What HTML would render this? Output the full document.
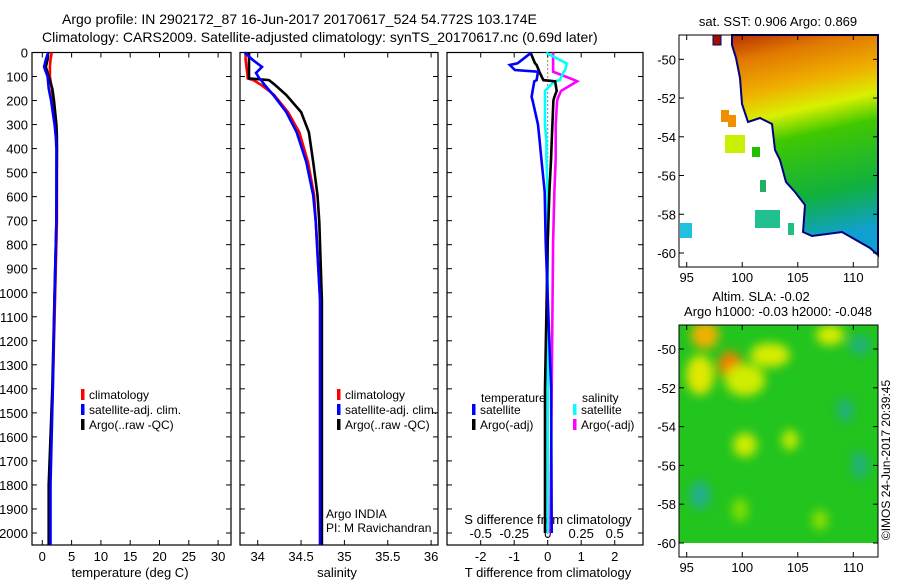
<!DOCTYPE html>
<html><head><meta charset="utf-8"><style>
body{margin:0;background:#fff}
svg{display:block;font-family:"Liberation Sans",sans-serif}
</style></head><body>
<svg id="fig" width="900" height="580" viewBox="0 0 900 580">
<defs>
<linearGradient id="sstGrad" x1="0" y1="0" x2="0.15" y2="1">
<stop offset="0" stop-color="#b83000"/><stop offset="0.12" stop-color="#e07800"/><stop offset="0.28" stop-color="#f0b000"/><stop offset="0.4" stop-color="#d8f000"/><stop offset="0.52" stop-color="#40c800"/><stop offset="0.8" stop-color="#10b040"/><stop offset="1" stop-color="#10a0d0"/>
</linearGradient>
<filter id="blur" x="-50%" y="-50%" width="200%" height="200%"><feGaussianBlur stdDeviation="5"/></filter>
<clipPath id="slaClip"><rect x="679" y="325" width="199" height="218"/></clipPath>
</defs>
<g font-size="14" fill="#000">
<text x="62" y="24">Argo profile: IN 2902172_87 16-Jun-2017 20170617_524 54.772S 103.174E</text>
<text x="42" y="42">Climatology: CARS2009. Satellite-adjusted climatology: synTS_20170617.nc (0.69d later)</text>
</g>
<g id="panels"></g>
<g>
<text x="778" y="26" font-size="13" text-anchor="middle">sat. SST: 0.906 Argo: 0.869</text>
<polygon points="732,35 878,35 878,255 870,248 842,232 812,236 803,232 805,205 795,192 786,182 780,160 775,150 772,124 760,118 748,122 742,104 740,78 736,58 732,45" fill="url(#sstGrad)" stroke="#000080" stroke-width="2"/>
<rect x="713" y="35" width="8" height="10" fill="#a01000" stroke="#000080"/>
<rect x="721" y="110" width="8" height="12" fill="#f09000"/>
<rect x="728" y="115" width="8" height="12" fill="#f09000"/>
<rect x="725" y="135" width="20" height="18" fill="#c8f000"/>
<rect x="752" y="147" width="8" height="10" fill="#20c000"/>
<rect x="755" y="210" width="25" height="18" fill="#20c090"/>
<rect x="680" y="223" width="12" height="15" fill="#20c0e0"/>
<rect x="788" y="223" width="6" height="12" fill="#20c080"/>
<rect x="760" y="180" width="6" height="12" fill="#20b060"/>
<rect x="679" y="35" width="199" height="232" fill="none" stroke="#000"/>
</g>
<g>
<text x="761" y="301" font-size="13" text-anchor="middle">Altim. SLA: -0.02</text>
<text x="778" y="316" font-size="13" text-anchor="middle">Argo h1000: -0.03 h2000: -0.048</text>
<g clip-path="url(#slaClip)">
<rect x="679" y="325" width="199" height="218" fill="#22c41e"/>
<g filter="url(#blur)">
<ellipse cx="705" cy="335" rx="14" ry="14" fill="#f0b000"/>
<ellipse cx="730" cy="365" rx="12" ry="14" fill="#f08000"/>
<ellipse cx="700" cy="375" rx="14" ry="20" fill="#e0e800"/>
<ellipse cx="745" cy="380" rx="20" ry="16" fill="#d0ec00"/>
<ellipse cx="770" cy="355" rx="20" ry="12" fill="#d8ec00"/>
<ellipse cx="830" cy="335" rx="14" ry="10" fill="#d8ec00"/>
<ellipse cx="860" cy="345" rx="10" ry="10" fill="#20b080"/>
<ellipse cx="745" cy="445" rx="12" ry="12" fill="#d0ec00"/>
<ellipse cx="790" cy="440" rx="8" ry="10" fill="#c8ec00"/>
<ellipse cx="845" cy="410" rx="8" ry="12" fill="#20b080"/>
<ellipse cx="700" cy="495" rx="10" ry="14" fill="#20b090"/>
<ellipse cx="740" cy="510" rx="8" ry="12" fill="#80e000"/>
<ellipse cx="820" cy="520" rx="8" ry="10" fill="#90e000"/>
<ellipse cx="860" cy="465" rx="8" ry="14" fill="#20b080"/>
</g>
</g>
<rect x="679" y="325" width="199" height="232" fill="none" stroke="#000"/>
<text transform="translate(890,460) rotate(-90)" font-size="12" text-anchor="middle">©IMOS 24-Jun-2017 20:39:45</text>
</g>
<g id="maps-axes"></g>
</svg>
<script>
const tDepth=[0,30,60,100,150,200,250,300,350,400,700,1000,1400,1800,2000,2050];
const tClim=[1.6,1.4,1.3,1.3,1.6,1.9,2.1,2.3,2.4,2.5,2.5,2.2,1.8,1.2,1.2,1.2];
const tSat=[1.0,0.6,0.3,0.9,1.1,1.5,1.8,2.1,2.3,2.4,2.4,2.1,1.8,1.4,1.4,1.4];
const tArgo=[1.0,0.9,0.6,1.1,1.7,2.0,2.2,2.4,2.5,2.5,2.4,2.1,1.7,1.1,1.1,1.1];
const sDepth=[0,30,60,85,108,115,135,177,248,332,456,594,706,1033,1800,2050];
const sClim=[33.86,33.86,33.87,33.88,33.885,33.95,34.04,34.19,34.35,34.48,34.58,34.65,34.67,34.72,34.72,34.72];
const sSat=[33.85,33.94,34.05,33.98,34.02,34.04,34.08,34.18,34.33,34.45,34.56,34.64,34.67,34.72,34.72,34.72];
const sArgo=[33.9,33.9,33.9,33.9,33.9,34.13,34.2,34.33,34.5,34.59,34.64,34.69,34.71,34.74,34.74,34.74];
const dDepth=[0,5,45,52,73,80,115,120,160,185,200,300,370,440,580,790,1400,2000];
const dTsat=[-0.53,-0.53,-0.9,-1.13,-0.98,-0.29,-0.33,-0.4,-0.45,-0.48,-0.45,-0.29,-0.24,-0.19,-0.09,-0.06,0.1,0.12];
const dTargo=[-0.53,-0.5,-0.38,-0.33,-0.27,-0.25,-0.13,0.22,0.27,0.2,0.17,0.14,0.12,0.1,0.05,0.0,-0.08,-0.08];
const dSsat=[-0.01,0.0,0.14,0.14,0.13,0.12,0.09,0.05,-0.02,-0.02,-0.02,-0.02,-0.01,-0.01,0.0,0.0,0.0,0.0];
const dSargo=[0.04,0.04,0.04,0.04,0.04,0.04,0.2,0.22,0.1,0.08,0.07,0.06,0.06,0.06,0.05,0.04,0.03,0.02];
const depthTicks=[0,100,200,300,400,500,600,700,800,900,1000,1100,1200,1300,1400,1500,1600,1700,1800,1900,2000];
const tempTicks=[0,5,10,15,20,25,30];
const salTicks=[34,34.5,35,35.5,36];
const salTickLabels=["34","34.5","35","35.5","36"];
const dTTicks=[-2,-1,0,1,2];
const dSTicks=[-0.5,-0.25,0,0.25,0.5];
const dSTickLabels=["-0.5","-0.25","0","0.25","0.5"];
const latTicks=[-50,-52,-54,-56,-58,-60];
const lonTicks=[95,100,105,110];

const NS='http://www.w3.org/2000/svg';
const root=document.getElementById('panels');
function el(tag,attrs,parent,txt){const e=document.createElementNS(NS,tag);for(const k in attrs)e.setAttribute(k,attrs[k]);if(txt!==undefined)e.textContent=txt;(parent||root).appendChild(e);return e;}
const PT=52.5,PB=545;
const yD=d=>PT+d*(533-52.5)/2000;
const xT=v=>42.3+v*5.86;
const xS=v=>257.7+(v-34)*86.7;
const xdT=v=>547.7+v*33.5;
const xdS=v=>547.7+v*134;

function frame(x0,x1,name){
  const r=el('rect',{x:x0,y:PT,width:x1-x0,height:PB-PT,fill:'none',stroke:'#000','stroke-width':1.2});
  
  
  depthTicks.forEach(d=>{el('line',{x1:x0,x2:x0+5,y1:yD(d),y2:yD(d),stroke:'#000'});el('line',{x1:x1,x2:x1-5,y1:yD(d),y2:yD(d),stroke:'#000'});});
}
function xticks(xs,fx,labels,y){xs.forEach((v,i)=>{const x=fx(v);el('line',{x1:x,x2:x,y1:PB,y2:PB-5,stroke:'#000'});el('line',{x1:x,x2:x,y1:PT,y2:PT+5,stroke:'#000'});
  const t=el('text',{x:x,y:y,'font-size':13,'text-anchor':'middle'},root,labels[i]);
  
  });}
function line(depths,vals,fx,color,name){
  const p=depths.map((d,i)=>(i?'L':'M')+fx(vals[i]).toFixed(1)+','+yD(d).toFixed(1)).join('');
  const e=el('path',{d:p,fill:'none',stroke:color,'stroke-width':2.6});
  
  
}
function legend(x,y,color,label){
  el('rect',{x:x,y:y-9,width:3.5,height:11,fill:color});
  const t=el('text',{x:x+8,y:y+1,'font-size':12},root,label);
  
  
}
frame(32,231,'temperature-panel');
depthTicks.forEach(d=>{const t=el('text',{x:28,y:yD(d)+5,'font-size':13,'text-anchor':'end'},root,String(d));
  
  });
xticks(tempTicks,xT,tempTicks.map(String),561);
let t1=el('text',{x:130,y:577,'font-size':13,'text-anchor':'middle'},root,'temperature (deg C)');


line(tDepth,tClim,xT,'#ff0000','temp-climatology-line');
line(tDepth,tArgo,xT,'#000000','temp-argo-line');
line(tDepth,tSat,xT,'#0000ff','temp-satellite-line');
legend(81,398,'#ff0000','climatology');legend(81,413,'#0000ff','satellite-adj. clim.');legend(81,428,'#000','Argo(..raw -QC)');
frame(240,438,'salinity-panel');
xticks(salTicks,xS,salTickLabels,561);
let t2=el('text',{x:337,y:577,'font-size':13,'text-anchor':'middle'},root,'salinity');


line(sDepth,sClim,xS,'#ff0000','sal-climatology-line');
line(sDepth,sArgo,xS,'#000000','sal-argo-line');
line(sDepth,sSat,xS,'#0000ff','sal-satellite-line');
legend(337,398,'#ff0000','climatology');legend(337,413,'#0000ff','satellite-adj. clim.');legend(337,428,'#000','Argo(..raw -QC)');
let a1=el('text',{x:326,y:518,'font-size':12},root,'Argo INDIA');


let a2=el('text',{x:326,y:532,'font-size':12},root,'PI: M Ravichandran');


frame(447,643,'difference-panel');
xticks(dTTicks,xdT,dTTicks.map(String),561);
dSTicks.forEach((v,i)=>{const t=el('text',{x:xdS(v),y:538,'font-size':13,'text-anchor':'middle'},root,dSTickLabels[i]);
  
  });
let t3=el('text',{x:548,y:524,'font-size':13,'text-anchor':'middle'},root,'S difference from climatology');


let t4=el('text',{x:548,y:577,'font-size':13,'text-anchor':'middle'},root,'T difference from climatology');


el('line',{x1:xdT(0),x2:xdT(0),y1:PT,y2:PB,stroke:'#000','stroke-dasharray':'1,3'});
line(dDepth,dSargo,xdS,'#ff00ff','sal-diff-argo-line');
line(dDepth,dSsat,xdS,'#00ffff','sal-diff-satellite-line');
line(dDepth,dTargo,xdT,'#000000','temp-diff-argo-line');
line(dDepth,dTsat,xdT,'#0000ff','temp-diff-satellite-line');
let h1=el('text',{x:481,y:402,'font-size':12},root,'temperature');


let h2=el('text',{x:582,y:402,'font-size':12},root,'salinity');


legend(472,413,'#0000ff','satellite');legend(472,428,'#000','Argo(-adj)');
legend(573,413,'#00ffff','satellite');legend(573,428,'#ff00ff','Argo(-adj)');
const mg=document.getElementById('maps-axes');
const lonX=v=>686.7+(v-95)*(853.3-686.7)/15;
[[35,267,59.3,253],[325,557,349,543]].forEach(([top,bot,y50,y60])=>{
  const latY=v=>y50+(v+50)*(y60-y50)/-10;
  latTicks.forEach(v=>{const y=latY(v);
    el('line',{x1:679,x2:684,y1:y,y2:y,stroke:'#000'},mg);el('line',{x1:878,x2:873,y1:y,y2:y,stroke:'#000'},mg);
    const t=el('text',{x:676,y:y+5,'font-size':13,'text-anchor':'end'},mg,String(v));
    
    });
  lonTicks.forEach(v=>{const x=lonX(v);
    el('line',{x1:x,x2:x,y1:bot,y2:bot-5,stroke:'#000'},mg);el('line',{x1:x,x2:x,y1:top,y2:top+5,stroke:'#000'},mg);
    const t=el('text',{x:x,y:bot+15,'font-size':13,'text-anchor':'middle'},mg,String(v));
    
    });
});
</script>
</body></html>
